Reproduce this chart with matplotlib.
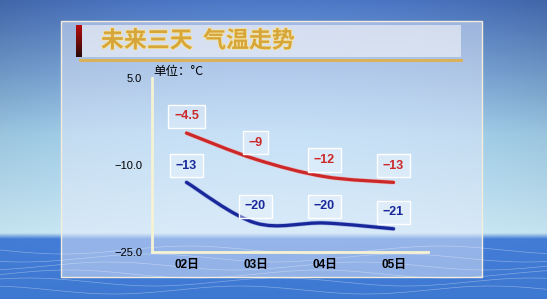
import numpy as np
import matplotlib
matplotlib.use("Agg")
import matplotlib.pyplot as plt
from matplotlib.path import Path
from matplotlib.patches import PathPatch, Rectangle
import matplotlib.patheffects as pe

# data
days = ["02日", "03日", "04日", "05日"]
high = [-4.5, -9, -12, -13]
low = [-13, -20, -20, -21]
high_labels = ["-4.5", "-9", "-12", "-13"]
low_labels = ["-13", "-20", "-20", "-21"]
yticks = [5.0, -10.0, -25.0]

W, H = 547, 299
fig = plt.figure(figsize=(W / 100, H / 100), dpi=100)

# background: sky and sea
bg = fig.add_axes([0, 0, 1, 1])
bg.set_axis_off()
yy = np.linspace(0, 1, H)
stops = [0.0, 0.45, 0.78, 0.80, 1.0]
r = np.interp(yy, stops, [0.30, 0.66, 0.80, 0.27, 0.24])
g = np.interp(yy, stops, [0.47, 0.84, 0.92, 0.50, 0.47])
b = np.interp(yy, stops, [0.78, 0.95, 0.97, 0.86, 0.82])
img = np.stack([r, g, b], axis=-1)[:, None, :].repeat(W, axis=1)
xx = np.linspace(-1, 1, W)[None, :, None]
shade = 1 - 0.15 * xx ** 2 * (1 - yy[:, None, None])
img = np.clip(img * shade, 0, 1)
bg.imshow(img, extent=[0, W, H, 0], aspect="auto", zorder=0)

# sea contour lines
for k in range(6):
    xs = np.linspace(0, W, 200)
    bg.plot(xs, 250 + k * 8 + 4 * np.sin(xs / 40 + k), color="white", lw=0.5, alpha=0.35)

# translucent panel
bg.add_patch(Rectangle((61, 21), 421, 256, fc=(0.90, 0.92, 0.98, 0.5), ec=(0.96, 0.93, 0.86), lw=1))
# title bar
bg.add_patch(Rectangle((76, 25), 385, 32, fc=(0.94, 0.95, 0.97, 0.65), ec="none"))
bar = np.linspace(0, 1, 32)[:, None, None] * np.array([-0.55, 0, 0]) + np.array([0.72, 0.04, 0.04])
bg.imshow(np.clip(bar, 0, 1).repeat(6, axis=1), extent=[76, 82, 57, 25], aspect="auto", zorder=3)
bg.plot([80, 461], [59.5, 59.5], color="#ddb050", lw=2)
bg.text(101, 41, "未来三天  气温走势", family="Noto Sans CJK SC", fontsize=16.5, fontweight="bold",
        color="#d6a63a", va="center", ha="left",
        path_effects=[pe.withStroke(linewidth=1.2, foreground="#f6e2a0")])
bg.text(153, 72, "单位：°C", family=["Noto Sans CJK SC", "DejaVu Sans"], fontsize=9,
        color="black", va="center", ha="left")
bg.set_xlim(0, W)
bg.set_ylim(H, 0)

# chart axes
ax = fig.add_axes([152 / W, 1 - 252 / H, (428 - 152) / W, (252 - 78) / H])
ax.patch.set_alpha(0)
ax.set_xlim(-0.5, 3.5)
ax.set_ylim(-25, 5)
for s in ["top", "right"]:
    ax.spines[s].set_visible(False)
for s in ["left", "bottom"]:
    ax.spines[s].set_color("#f6f2d4")
    ax.spines[s].set_linewidth(2)
ax.set_yticks(yticks)
ax.set_yticklabels([f"{v:.1f}".replace("-", "\u2212") for v in yticks],
                   family="Liberation Sans", fontsize=8)
ax.set_xticks(range(len(days)))
ax.set_xticklabels(days, family=["Liberation Sans", "Noto Sans CJK SC"], fontsize=8.5, fontweight="bold")
ax.tick_params(length=0)
ax.tick_params(axis="y", pad=7)
ax.tick_params(axis="x", pad=5)


def smooth_path(xs, ys):
    pts = np.column_stack([xs, ys]).astype(float)
    ext = np.vstack([pts[0], pts, pts[-1]])
    verts = [pts[0]]
    codes = [Path.MOVETO]
    for i in range(len(pts) - 1):
        p0, p1, p2, p3 = ext[i], ext[i + 1], ext[i + 2], ext[i + 3]
        verts += [p1 + (p2 - p0) / 6, p2 - (p3 - p1) / 6, p2]
        codes += [Path.CURVE4] * 3
    return Path(verts, codes)


x = np.arange(len(days))
for vals, labels, color, glow in [(high, high_labels, "#cc2828", "#f4a0a0"),
                                  (low, low_labels, "#18289a", "#8090d8")]:
    ax.add_patch(PathPatch(smooth_path(x, vals), fill=False, ec=color, lw=2.3,
                           capstyle="round", transform=ax.transData,
                           path_effects=[pe.Stroke(linewidth=3.2, foreground=glow, alpha=0.6), pe.Normal()]))
    for xi, v, t in zip(x, vals, labels):
        ax.annotate(t.replace("-", "\u2212"), (xi, v), xytext=(0, 12), textcoords="offset points",
                    ha="center", va="center", fontsize=9, fontweight="bold", color=color,
                    family="Liberation Sans",
                    bbox=dict(boxstyle="square,pad=0.45", fc=(0.97, 0.98, 1, 0.35), ec="white", lw=1))

fig.savefig("out.png", dpi=100)
